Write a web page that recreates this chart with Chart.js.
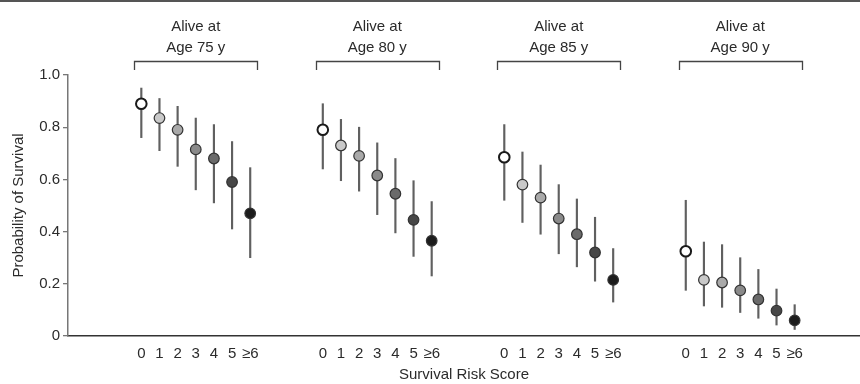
<html><head><meta charset="UTF-8">
<title>Probability of Survival by Survival Risk Score</title>
<script src="https://cdn.jsdelivr.net/npm/chart.js"></script>
<style>
body { margin: 0; background: #fff; }
#wrap { width: 860px; height: 384px; }
</style>
</head>
<body>
<div id="wrap"><canvas id="survivalChart" width="860" height="384"></canvas></div>
<script>
// Data
const scoreLabels = ['0', '1', '2', '3', '4', '5', '\u22656'];
const ageLabels = ['75', '80', '85', '90'];
const yTicks = [0, 0.2, 0.4, 0.6, 0.8, 1.0];

const est75 = [0.89, 0.835, 0.79, 0.715, 0.68, 0.59, 0.47];
const lo75 = [0.76, 0.71, 0.65, 0.56, 0.51, 0.41, 0.30];
const hi75 = [0.95, 0.91, 0.88, 0.835, 0.81, 0.745, 0.645];

const est80 = [0.79, 0.73, 0.69, 0.615, 0.545, 0.445, 0.365];
const lo80 = [0.64, 0.595, 0.555, 0.465, 0.395, 0.305, 0.23];
const hi80 = [0.89, 0.83, 0.80, 0.74, 0.68, 0.595, 0.515];

const est85 = [0.685, 0.58, 0.53, 0.45, 0.39, 0.32, 0.215];
const lo85 = [0.52, 0.435, 0.39, 0.315, 0.265, 0.21, 0.13];
const hi85 = [0.81, 0.705, 0.655, 0.58, 0.525, 0.455, 0.335];

const est90 = [0.325, 0.215, 0.205, 0.175, 0.14, 0.097, 0.06];
const lo90 = [0.175, 0.115, 0.11, 0.09, 0.068, 0.042, 0.025];
const hi90 = [0.52, 0.36, 0.35, 0.30, 0.255, 0.18, 0.12];

const estimates = [est75, est80, est85, est90];
const lows = [lo75, lo80, lo85, lo90];
const highs = [hi75, hi80, hi85, hi90];

// marker shades, score 0 (open) to >=6 (black)
const shades = ['#ffffff', '#c9c9c9', '#a9a9a9', '#8a8a8a', '#6a6a6a', '#474747', '#1c1c1c'];

const GROUP_STEP = 10; // slots per age group on the x scale
const TEXT = '#2b2b2b';

Chart.defaults.font.family = "'Liberation Sans', Arial, sans-serif";
Chart.defaults.font.size = 15;
Chart.defaults.color = TEXT;

const pointData = [], barData = [], fills = [], borders = [], bw = [];
estimates.forEach((row, g) => {
  row.forEach((v, i) => {
    const x = g * GROUP_STEP + i;
    pointData.push({ x: x, y: v });
    barData.push({ x: x, y: [lows[g][i], highs[g][i]] });
    fills.push(shades[i]);
    borders.push(i === 0 ? '#1a1a1a' : '#333');
    bw.push(i === 0 ? 2 : 1.2);
  });
});

const tickValues = [];
ageLabels.forEach((a, g) => scoreLabels.forEach((s, i) => tickValues.push(g * GROUP_STEP + i)));

// headers, brackets and the rule at the top
const headerPlugin = {
  id: 'headers',
  afterDraw(chart) {
    const ctx = chart.ctx;
    const xs = chart.scales.x;
    ctx.save();
    ctx.strokeStyle = '#555';
    ctx.lineWidth = 2;
    ctx.beginPath();
    ctx.moveTo(0, 1);
    ctx.lineTo(chart.width, 1);
    ctx.stroke();

    ctx.fillStyle = TEXT;
    ctx.font = "15px 'Liberation Sans', Arial, sans-serif";
    ctx.textAlign = 'center';
    ctx.textBaseline = 'middle';
    ageLabels.forEach((age, g) => {
      const base = g * GROUP_STEP;
      const cx = xs.getPixelForValue(base + 3);
      ctx.fillText('Alive at', cx, 27);
      ctx.fillText('Age ' + age + ' y', cx, 48);
      const x0 = Math.round(xs.getPixelForValue(base - 0.4)) + 0.5;
      const x1 = Math.round(xs.getPixelForValue(base + 6.4)) + 0.5;
      ctx.lineWidth = 1.3;
      ctx.strokeStyle = '#444';
      ctx.beginPath();
      ctx.moveTo(x0, 70);
      ctx.lineTo(x0, 61.5);
      ctx.lineTo(x1, 61.5);
      ctx.lineTo(x1, 70);
      ctx.stroke();
    });
    ctx.restore();
  }
};

new Chart(document.getElementById('survivalChart'), {
  type: 'scatter',
  data: {
    datasets: [
      {
        type: 'scatter',
        data: pointData,
        pointRadius: 5.3,
        pointHoverRadius: 5.3,
        pointBackgroundColor: fills,
        pointBorderColor: borders,
        pointBorderWidth: bw,
        clip: false,
        order: 0
      },
      {
        type: 'bar',
        data: barData,
        backgroundColor: '#606060',
        borderWidth: 0,
        barThickness: 1.5,
        grouped: false,
        order: 1
      }
    ]
  },
  plugins: [headerPlugin],
  options: {
    responsive: false,
    animation: false,
    layout: { autoPadding: false, padding: { top: 75, right: 0, left: 0, bottom: 0 } },
    plugins: { legend: { display: false }, tooltip: { enabled: false } },
    scales: {
      x: {
        type: 'linear',
        min: -4.04,
        max: 39.6,
        offset: false,
        afterFit(scale) {
          scale.height = 48;
          scale.paddingLeft = 0;
          scale.paddingRight = 0;
        },
        afterBuildTicks(scale) { scale.ticks = tickValues.map(v => ({ value: v })); },
        ticks: {
          autoSkip: false,
          maxRotation: 0,
          padding: 1,
          color: TEXT,
          callback: v => scoreLabels[((v % GROUP_STEP) + GROUP_STEP) % GROUP_STEP]
        },
        grid: { display: false },
        border: { display: true, color: '#333', width: 1.5 },
        title: {
          display: true,
          text: 'Survival Risk Score',
          color: TEXT,
          padding: { top: 0, bottom: 0 }
        }
      },
      y: {
        min: 0,
        max: 1,
        afterFit(scale) { scale.width = 68; },
        afterBuildTicks(scale) { scale.ticks = yTicks.map(v => ({ value: v })); },
        ticks: {
          padding: 3,
          color: TEXT,
          callback: v => (v === 0 ? '0' : v.toFixed(1))
        },
        grid: { drawOnChartArea: false, drawTicks: true, tickLength: 5, color: '#777', lineWidth: 1.3 },
        border: { display: true, color: '#777', width: 1.5 },
        title: {
          display: true,
          text: 'Probability of Survival',
          color: TEXT,
          padding: { top: 10, bottom: 0 }
        }
      }
    }
  }
});
</script>
</body></html>
